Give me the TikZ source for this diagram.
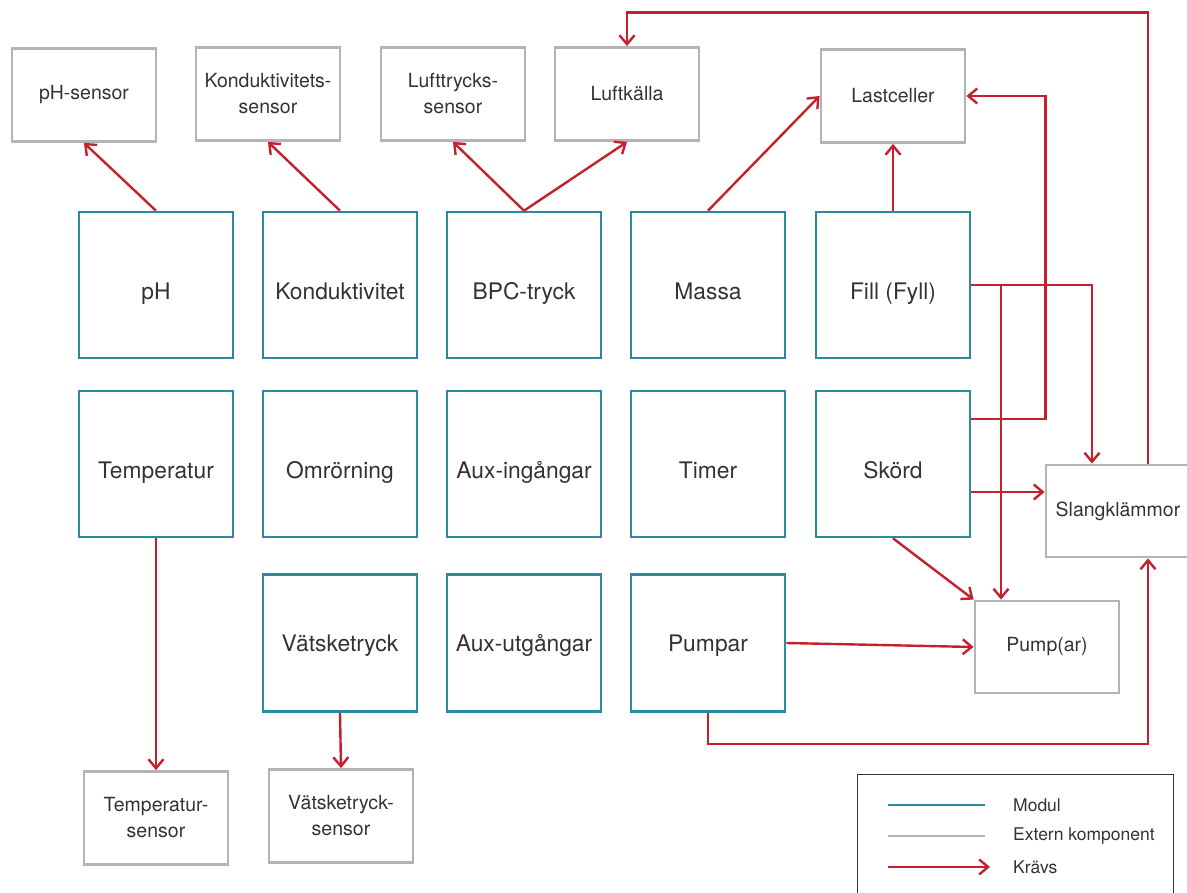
\documentclass[tikz,border=0pt]{standalone}
\usepackage{fontspec}
\setmainfont{TeX Gyre Heros}
\usetikzlibrary{arrows.meta}
\definecolor{modc}{HTML}{2C8A9E}
\definecolor{extc}{HTML}{B4B4B8}
\definecolor{reqc}{HTML}{C6202E}
\definecolor{txtc}{HTML}{333333}
\tikzset{
  modul/.style={draw=modc, line width=2.6pt, minimum width=154pt, minimum height=146pt, inner sep=0pt, text=txtc, font=\fontsize{22.8}{26}\selectfont, text height=29.6pt, text depth=0pt},
  modulb/.style={modul, minimum height=137pt, text height=16.6pt},
  extern/.style={draw=extc, line width=2.8pt, minimum width=144pt, minimum height=93pt, inner sep=0pt, align=center, text=txtc, font=\fontsize{19.5}{26}\selectfont},
  req/.style={draw=reqc, line width=2.4pt, -{Straight Barb[length=9pt,width=15pt,line width=2.4pt]}},
  legtext/.style={anchor=west, inner sep=0pt, text=txtc, font=\fontsize{17.5}{20}\selectfont}
}
\begin{document}
\begin{tikzpicture}[x=1pt,y=-1pt]
\useasboundingbox (0,0) rectangle (1187,893);
% modules
\node[modul] (ph) at (156,285) {pH};
\node[modul] (kond) at (340,285) {Konduktivitet};
\node[modul] (bpc) at (524,285) {BPC-tryck};
\node[modul] (massa) at (708,285) {Massa};
\node[modul] (fill) at (893,285) {Fill (Fyll)};
\node[modul] (temp) at (156,464) {Temperatur};
\node[modul] (omr) at (340,464) {Omrörning};
\node[modul] (auxin) at (524,464) {Aux-ingångar};
\node[modul] (timer) at (708,464) {Timer};
\node[modul] (skord) at (893,464) {Skörd};
\node[modulb] (vats) at (340,643) {Vätsketryck};
\node[modulb] (auxut) at (524,643) {Aux-utgångar};
\node[modulb] (pumpar) at (708,643) {Pumpar};
% external components
\node[extern] (phs) at (84,95) {pH-sensor};
\node[extern] (konds) at (268,94) {Konduktivitets-\\sensor};
\node[extern] (luftts) at (453,94) {Lufttrycks-\\sensor};
\node[extern] (luftk) at (627,94) {Luftkälla};
\node[extern] (last) at (893,96) {Lastceller};
\node[extern, minimum height=92pt] (slang) at (1118,511) {Slangklämmor};
\node[extern, minimum height=92pt] (pumps) at (1047,647) {Pump(ar)};
\node[extern] (temps) at (156,818) {Temperatur-\\sensor};
\node[extern] (vatss) at (341,816) {Vätsketryck-\\sensor};
% requirements
\draw[req] (ph.north) -- (phs.south);
\draw[req] (kond.north) -- (konds.south);
\draw[req] (bpc.north) -- (luftts.south);
\draw[req] (bpc.north) -- (luftk.south);
\draw[req] (massa.north) -- (last.west);
\draw[req] (fill.north) -- (last.south);
\draw[req] (temp.south) -- (temps.north);
\draw[req] (vats.south) -- (vatss.north);
\draw[req] (fill.east) -| ([xshift=-26pt]slang.north);
\draw[req] (fill.east) -| ([xshift=-46pt]pumps.north);
\draw[req] ([yshift=45pt]skord.east) -- ++(74,0) |- (last.east);
\draw[req] ([yshift=-28pt]skord.east) -- ([yshift=19pt]slang.west);
\draw[req] (skord.south) -- (pumps.north west);
\draw[req] (pumpar.east) -- (pumps.west);
\draw[req] (pumpar.south) -- ++(0,31) -| ([xshift=30pt]slang.south);
\draw[req] ([xshift=30pt]slang.north) -- ++(0,-451) -| (luftk.north);
% legend
\draw[black!80, line width=1pt] (857,896) -- (857,774) -- (1173,774) -- (1173,896);
\coordinate (l1a) at (888,805); \coordinate (l1b) at (985,805);
\coordinate (l2a) at (888,836); \coordinate (l2b) at (985,836);
\coordinate (l3a) at (888,867); \coordinate (l3b) at (990,867);
\draw[modc, line width=2.6pt] (l1a) -- (l1b);
\draw[extc, line width=2.8pt] (l2a) -- (l2b);
\draw[req] (l3a) -- (l3b);
\node[legtext] (lt1) at (1013,805) {Modul};
\node[legtext] (lt2) at (1013,836) {Extern komponent};
\node[legtext] (lt3) at (1013,867) {Krävs};
\end{tikzpicture}
\end{document}
